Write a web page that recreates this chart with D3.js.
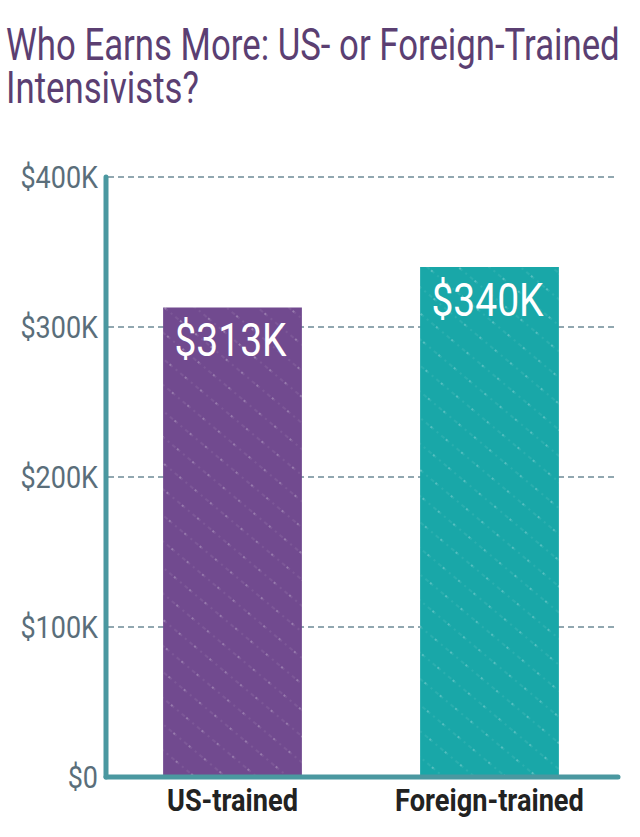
<!DOCTYPE html>
<html lang='en'>
	<head>
		<title>Who Earns More</title>
		<script type='text/javascript' src='https://cdn.jsdelivr.net/npm/d3@7'></script>
		<style>
			body { margin: 0; background: #fff; }
			text { font-family: Roboto, sans-serif; }
		</style>
	</head>
	<body>
		<script type='text/javascript'>
		{
			var categories = ['US-trained', 'Foreign-trained'];
			var salaries = [313, 340]; // thousands of dollars
			var valueLabels = ['$313K', '$340K'];
			var tickValues = [0, 100, 200, 300, 400];
			var tickLabels = ['$0', '$100K', '$200K', '$300K', '$400K'];
			var barColors = ['#714a8f', '#19a7a8'];
			var titleLines = ['Who Earns More: US- or Foreign-Trained', 'Intensivists?'];

			var width = 640, height = 837;
			var svg = d3.select('body').append('svg').attr('width', width).attr('height', height);

			// fake a condensed face by squeezing horizontally around the text's x
			function condense(sel, f) {
				sel.each(function() {
					var tx = +d3.select(this).attr('x');
					d3.select(this).attr('transform', 'translate(' + tx + ',0) scale(' + f + ',1) translate(' + (-tx) + ',0)');
				});
			}

			var x = d3.scaleBand().domain(categories).range([104, 618]).paddingInner(0.46).paddingOuter(0.23);
			var y = d3.scaleLinear().domain([0, 400]).range([777, 177]);

			var defs = svg.append('defs');
			barColors.forEach(function(c, i) {
				var p = defs.append('pattern').attr('id', 'tex' + i).attr('patternUnits', 'userSpaceOnUse')
					.attr('width', 20).attr('height', 20).attr('patternTransform', 'rotate(40)');
				p.append('rect').attr('width', 20).attr('height', 20).attr('fill', c);
				p.append('line').attr('x1', 0).attr('x2', 20).attr('y1', 10).attr('y2', 10)
					.attr('stroke', '#fff').attr('stroke-opacity', 0.15).attr('stroke-width', 1)
					.attr('stroke-dasharray', '2,4');
				p.append('circle').attr('cx', 5).attr('cy', 10).attr('r', 0.9).attr('fill', '#fff').attr('fill-opacity', 0.4);
			});

			// title
			svg.append('g').selectAll('text').data(titleLines).enter().append('text')
				.attr('x', 6).attr('y', (d, i) => 60 + i * 43)
				.attr('font-size', 44).attr('fill', '#5b3f72')
				.text(d => d)
				.call(condense, 0.79);

			// grid
			svg.append('g').selectAll('line').data(tickValues.filter(v => v > 0)).enter().append('line')
				.attr('x1', 108).attr('x2', 616)
				.attr('y1', d => y(d)).attr('y2', d => y(d))
				.attr('stroke', '#6d8a96').attr('stroke-width', 1.3).attr('stroke-dasharray', '6,4');

			// tick labels
			svg.append('g').selectAll('text').data(tickValues).enter().append('text')
				.attr('x', 98).attr('y', d => y(d) + 11)
				.attr('text-anchor', 'end').attr('font-size', 31).attr('fill', '#5a6e7a')
				.text((d, i) => tickLabels[i])
				.call(condense, 0.87);

			// bars
			svg.append('g').selectAll('rect').data(salaries).enter().append('rect')
				.attr('x', (d, i) => x(categories[i]))
				.attr('width', x.bandwidth())
				.attr('y', d => y(d))
				.attr('height', d => y(0) - y(d))
				.attr('fill', (d, i) => 'url(#tex' + i + ')');

			// value labels
			svg.append('g').selectAll('text').data(salaries).enter().append('text')
				.attr('x', (d, i) => x(categories[i]) + x.bandwidth() / 2 - 2)
				.attr('y', d => y(d) + 49)
				.attr('text-anchor', 'middle').attr('font-size', 47).attr('fill', '#fff')
				.text((d, i) => valueLabels[i])
				.call(condense, 0.83);

			// axes lines
			svg.append('line').attr('x1', 106).attr('x2', 106).attr('y1', y(400)).attr('y2', y(0))
				.attr('stroke', '#4a98a0').attr('stroke-width', 5).attr('stroke-linecap', 'round');
			svg.append('line').attr('x1', 106).attr('x2', 618).attr('y1', y(0)).attr('y2', y(0))
				.attr('stroke', '#4a98a0').attr('stroke-width', 5).attr('stroke-linecap', 'round');

			// category labels
			svg.append('g').selectAll('text').data(categories).enter().append('text')
				.attr('x', d => x(d) + x.bandwidth() / 2)
				.attr('y', 811)
				.attr('text-anchor', 'middle').attr('font-size', 32).attr('font-weight', 'bold').attr('fill', '#222')
				.text(d => d)
				.call(condense, 0.85);
		}
		</script>
	</body>
</html>
